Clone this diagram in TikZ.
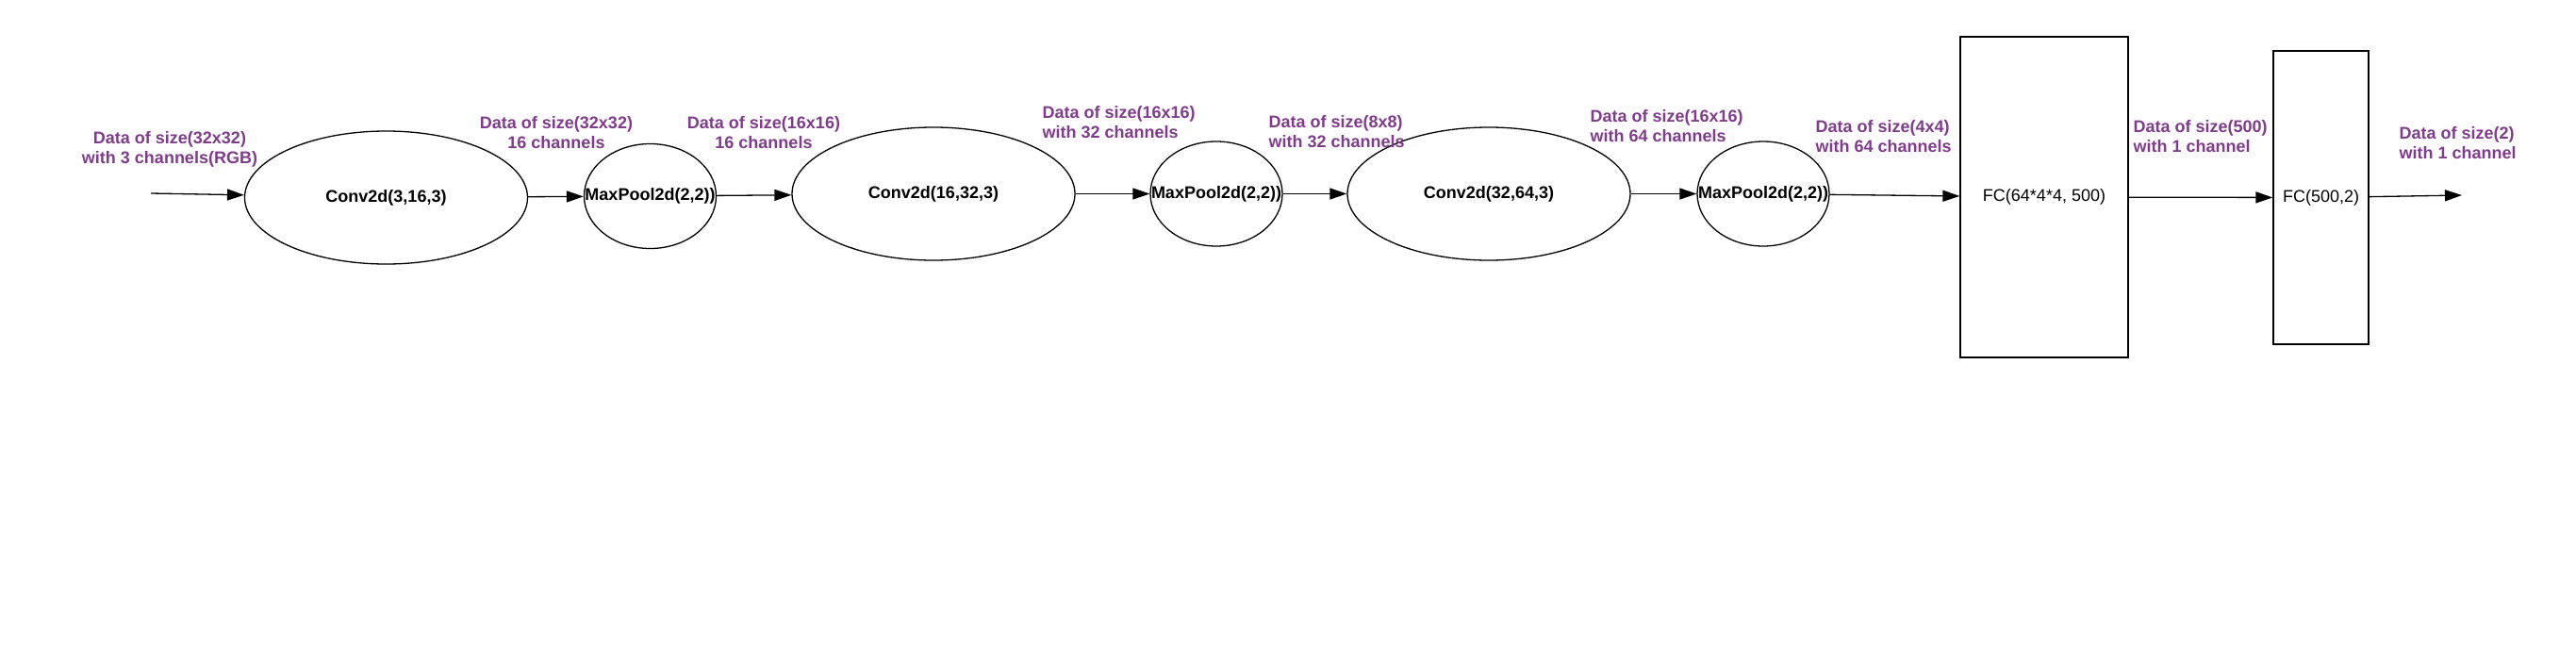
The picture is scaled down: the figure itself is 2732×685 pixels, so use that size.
\documentclass[tikz,border=0pt]{standalone}
\usepackage{fontspec}
\setmainfont{Liberation Sans}
\usetikzlibrary{shapes.geometric,arrows.meta}
\definecolor{datapurple}{RGB}{128,59,140}

\begin{document}
\begin{tikzpicture}[x=0.5pt,y=-0.5pt,line width=0.65pt,
    conv/.style={ellipse,draw,minimum width=150pt,minimum height=70.5pt,inner sep=0pt,
                 font=\fontsize{9}{10.5}\selectfont\bfseries},
    pool/.style={ellipse,draw,minimum width=70pt,minimum height=55.5pt,inner sep=0pt,
                 font=\fontsize{9}{10.5}\selectfont\bfseries},
    fc/.style={rectangle,draw,inner sep=0pt,font=\fontsize{9}{10.5}\selectfont},
    data/.style={text=datapurple,inner sep=0pt,font=\fontsize{9}{10.5}\selectfont\bfseries},
    flow/.style={-{Triangle[length=9pt,width=6pt]}}]
                \useasboundingbox (0,0) rectangle (2732,685);

                % layers
                \node[conv] (conv1) at (409.5,209.5) {Conv2d(3,16,3)};
                \node[pool] (pool1) at (689.5,208) {\makebox[0pt]{MaxPool2d(2,2))}};
                \node[conv] (conv2) at (990,205.5) {Conv2d(16,32,3)};
                \node[pool] (pool2) at (1290,205.5) {\makebox[0pt]{MaxPool2d(2,2))}};
                \node[conv] (conv3) at (1579,205.5) {Conv2d(32,64,3)};
                \node[pool] (pool3) at (1870,205.5) {\makebox[0pt]{MaxPool2d(2,2))}};
                \node[fc,minimum width=89pt,minimum height=170pt] (fc1) at (2168,209) {FC(64*4*4, 500)};
                \node[fc,minimum width=50.5pt,minimum height=155.5pt] (fc2) at (2461.5,209.5) {FC(500,2)};

                \coordinate (in) at (160,205);
                \coordinate (out) at (2611,207);

                % data sizes
                \node[data,align=center] (d1) at (180,158.5) {Data of size(32x32)\\with 3 channels(RGB)};
                \node[data,align=center] (d2) at (590,141) {Data of size(32x32)\\16 channels};
                \node[data,align=center] (d3) at (810,141) {Data of size(16x16)\\16 channels};
                \node[data,align=left,anchor=west] (d4) at (1105,129.5) {Data of size(16x16)\\with 32 channels};
                \node[data,align=left,anchor=west] (d5) at (1345,140) {Data of size(8x8)\\with 32 channels};
                \node[data,align=left,anchor=west] (d6) at (1686,133.5) {Data of size(16x16)\\with 64 channels};
                \node[data,align=left,anchor=west] (d7) at (1925,144.5) {Data of size(4x4)\\with 64 channels};
                \node[data,align=left,anchor=west] (d8) at (2262,144.5) {Data of size(500)\\with 1 channel};
                \node[data,align=left,anchor=west] (d9) at (2544,151.5) {Data of size(2)\\with 1 channel};

                \draw[flow] (in) -- (conv1);
                \draw[flow] (conv1) -- (pool1);
                \draw[flow] (pool1) -- (conv2);
                \draw[flow] (conv2) -- (pool2);
                \draw[flow] (pool2) -- (conv3);
                \draw[flow] (conv3) -- (pool3);
                \draw[flow] (pool3) -- (fc1);
                \draw[flow] (fc1) -- (fc2);
                \draw[flow] (fc2) -- (out);
\end{tikzpicture}
\end{document}
